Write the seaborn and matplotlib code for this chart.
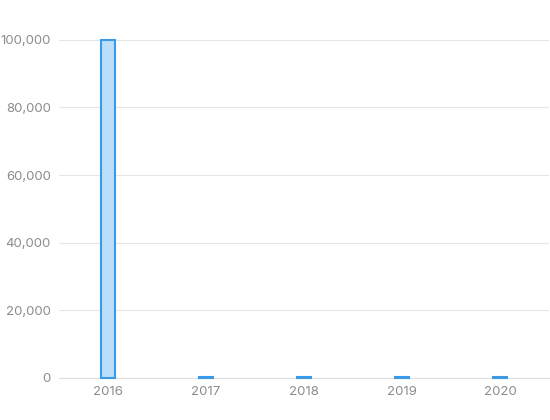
import matplotlib
matplotlib.use("Agg")
import matplotlib.pyplot as plt
import seaborn as sns
import pandas as pd

years = ["2016", "2017", "2018", "2019", "2020"]
values = [100000, 300, 280, 260, 310]

df = pd.DataFrame({"year": years, "value": values})

sns.set_style("white")
plt.rcParams["font.family"] = ["Inter", "DejaVu Sans"]

fig = plt.figure(figsize=(5.5, 4.2), dpi=100)
ax = fig.add_axes([59 / 550, 1 - 378 / 420, 490 / 550, (378 - 6) / 420])

sns.barplot(data=df, x="year", y="value", ax=ax, width=0.14,
            color="#bbdefb", edgecolor="#3a9ae6", linewidth=1.5,
            saturation=1)
for p in ax.patches:
    p.set_zorder(3)
    p.set_clip_on(False)

ax.set_ylim(0, 110000)
ax.set_xlim(-0.5, 4.5)
ax.set_yticks([0, 20000, 40000, 60000, 80000, 100000])
ax.set_yticklabels([f"{v:,}" for v in [0, 20000, 40000, 60000, 80000, 100000]])
ax.yaxis.grid(True, color="#e6e6e6", linewidth=0.8)
ax.set_axisbelow(True)
for s in ["top", "right", "left"]:
    ax.spines[s].set_visible(False)
ax.spines["bottom"].set_color("#e0e0e0")
ax.spines["bottom"].set_zorder(0.5)
ax.tick_params(axis="both", length=0, colors="#8c8c8c", labelsize=9.5)
ax.tick_params(axis="y", pad=6)
ax.tick_params(axis="x", pad=6)
ax.set_xlabel("")
ax.set_ylabel("")

fig.savefig("out.png", dpi=100)
